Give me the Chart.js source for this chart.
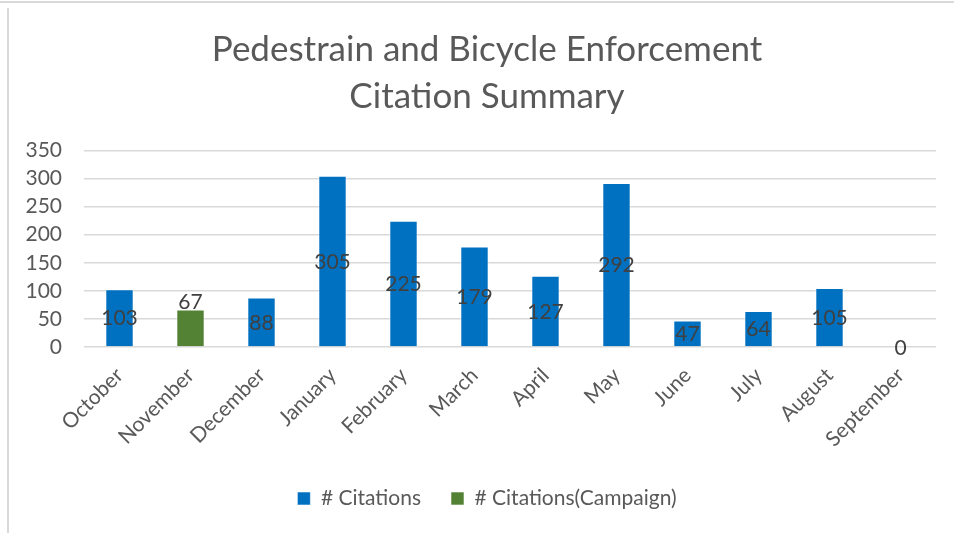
<!DOCTYPE html>
<html>
<head>
<meta charset="utf-8">
<title>Pedestrain and Bicycle Enforcement Citation Summary</title>
<script src="https://cdn.jsdelivr.net/npm/chart.js@4.4.1/dist/chart.umd.min.js"></script>
<style>
  html, body { margin: 0; padding: 0; background: #fff; }
  #wrap { position: relative; width: 954px; height: 533px; }
  .rule-top { position: absolute; left: 0; top: 1px; width: 954px; height: 2px; background: #d9d9d9; }
  .rule-left { position: absolute; left: 7px; top: 8px; width: 2px; height: 525px; background: #d9d9d9; }
  canvas { position: absolute; left: 0; top: 0; }
</style>
</head>
<body>
<div id="wrap">
  <div class="rule-top"></div>
  <div class="rule-left"></div>
  <canvas id="ch" width="954" height="533"></canvas>
</div>
<script>
// Monthly pedestrian/bicycle citation counts, fiscal year Oct-Sep
var months = ["October", "November", "December", "January", "February", "March",
              "April", "May", "June", "July", "August", "September"];
var citations = [103, null, 88, 305, 225, 179, 127, 292, 47, 64, 105, 0];
var campaign = [null, 67, null, null, null, null, null, null, null, null, null, null];
var yTicks = [0, 50, 100, 150, 200, 250, 300, 350];

var BLUE = "#0070c0", GREEN = "#548235", TEXT = "#595959", LABEL = "#404040", GRID = "#d9d9d9";
var FONT = "Lato, 'Open Sans', sans-serif";

Chart.defaults.font.family = FONT;
Chart.defaults.color = TEXT;

// value labels: centred in the blue bars, just above the green one
var barLabels = {
  id: "barLabels",
  afterDatasetsDraw: function (chart) {
    var ctx = chart.ctx;
    ctx.save();
    ctx.font = "21px " + FONT;
    ctx.fillStyle = LABEL;
    ctx.textAlign = "center";
    chart.data.datasets.forEach(function (ds, di) {
      var meta = chart.getDatasetMeta(di);
      meta.data.forEach(function (bar, i) {
        var v = ds.data[i];
        if (v === null || v === undefined) return;
        if (ds.labelPos === "end") {
          ctx.textBaseline = "bottom";
          ctx.fillText(String(v), bar.x, bar.y + 3);
        } else {
          ctx.textBaseline = "middle";
          ctx.fillText(String(v), bar.x, (bar.y + bar.base) / 2 + 1);
        }
      });
    });
    ctx.restore();
  }
};

// title and legend sit a little right of the plot's centre
var nudgeBoxes = {
  id: "nudgeBoxes",
  afterLayout: function (chart) {
    [chart.titleBlock, chart.legend].forEach(function (b) {
      if (!b) return;
      b.left += 14; b.right += 14;
    });
  }
};

new Chart(document.getElementById("ch"), {
  type: "bar",
  data: {
    labels: months,
    datasets: [
      { label: "# Citations", data: citations, backgroundColor: BLUE,
        borderColor: "rgba(255,255,255,.55)", borderWidth: 1, labelPos: "center" },
      { label: "# Citations(Campaign)", data: campaign, backgroundColor: GREEN,
        borderColor: "rgba(255,255,255,.55)", borderWidth: 1, labelPos: "end" }
    ]
  },
  plugins: [barLabels, nudgeBoxes],
  options: {
    responsive: false,
    animation: false,
    layout: { padding: { top: 26, left: 10, right: 18, bottom: 14 } },
    datasets: { bar: { barPercentage: 0.4, categoryPercentage: 1 } },
    plugins: {
      title: {
        display: true,
        text: ["Pedestrain and Bicycle Enforcement", "Citation Summary"],
        color: TEXT,
        font: { size: 35, weight: "normal", lineHeight: 1.35 },
        padding: { top: 0, bottom: 30 }
      },
      legend: {
        position: "bottom",
        labels: { boxWidth: 13, boxHeight: 13, padding: 30, color: TEXT, font: { size: 21 } }
      },
      tooltip: { enabled: false }
    },
    scales: {
      x: {
        stacked: true,
        grid: { display: false, drawTicks: false },
        border: { display: false },
        ticks: { color: TEXT, font: { size: 21 }, minRotation: 45, maxRotation: 45, padding: 16, autoSkip: false },
        afterFit: function (s) { s.height = 111; }
      },
      y: {
        stacked: true,
        min: 0, max: 350,
        afterBuildTicks: function (s) { s.ticks = yTicks.map(function (v) { return { value: v }; }); },
        grid: { color: GRID, lineWidth: 1.5, drawTicks: false },
        border: { display: false },
        ticks: { color: TEXT, font: { size: 21 }, padding: 22, autoSkip: false },
        afterFit: function (s) { s.width = 74; }
      }
    }
  }
});
</script>
</body>
</html>
